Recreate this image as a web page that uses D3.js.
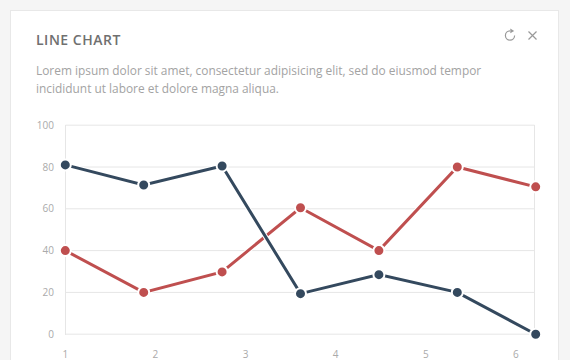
<!DOCTYPE html>
<html>
<head>
<meta charset="utf-8">
<script src="https://cdn.jsdelivr.net/npm/d3@7"></script>
<style>
  html, body { margin: 0; padding: 0; background: #f5f5f5; overflow: hidden; }
  svg { display: block; font-family: "Open Sans", sans-serif; }
</style>
</head>
<body>
<svg width="570" height="360"></svg>
<script>
const titleText = "LINE CHART";
const descLines = [
  "Lorem ipsum dolor sit amet, consectetur adipisicing elit, sed do eiusmod tempor",
  "incididunt ut labore et dolore magna aliqua."
];
const yTicks = [0, 20, 40, 60, 80, 100];
const xTicks = [1, 2, 3, 4, 5, 6];
const xValues = [1, 1.87, 2.74, 3.61, 4.48, 5.35, 6.22];
const darkValues = [81, 71.4, 80.5, 19.4, 28.5, 20, 0];
const redValues = [40, 20, 29.8, 60.5, 40, 80, 70.5];

const svg = d3.select("svg");

// card
svg.append("rect")
  .attr("x", 10.5).attr("y", 10.5)
  .attr("width", 548).attr("height", 370)
  .attr("fill", "#fff").attr("stroke", "#e8e8e8");

svg.append("text")
  .attr("x", 36).attr("y", 45)
  .attr("fill", "#707070")
  .style("font-size", "14px")
  .style("font-weight", 600)
  .style("letter-spacing", "0.5px")
  .text(titleText);

svg.selectAll(".desc")
  .data(descLines)
  .enter()
  .append("text")
  .attr("class", "desc")
  .attr("x", 36)
  .attr("y", (d, i) => 75 + i * 18)
  .attr("fill", "#a3a3a3")
  .style("font-size", "11.9px")
  .text(d => d);

// refresh and close icons
const icons = svg.append("g")
  .attr("fill", "none")
  .attr("stroke", "#999")
  .attr("stroke-width", 1.2);
icons.append("path").attr("d", "M514.6 35.5 A4.6 4.6 0 1 1 510 30.9");
icons.append("path").attr("d", "M510.3 28.6 L514.2 30.9 L510.3 33.2 Z").attr("fill", "#999").attr("stroke", "none");
icons.append("path").attr("d", "M528.5 31.5 L536.5 39.5 M536.5 31.5 L528.5 39.5");

const x = d3.scaleLinear().domain([1, 6.22]).range([65.3, 535.7]);
const y = d3.scaleLinear().domain([0, 100]).range([334.2, 125.2]);

// grid
svg.append("g")
  .selectAll("line")
  .data(yTicks)
  .enter()
  .append("line")
  .attr("x1", 65.5).attr("x2", 534.5)
  .attr("y1", d => y(d))
  .attr("y2", d => y(d))
  .attr("stroke", "#e6e6e6");

svg.append("g")
  .selectAll("line")
  .data([65.5, 534.5])
  .enter()
  .append("line")
  .attr("x1", d => d).attr("x2", d => d)
  .attr("y1", 125).attr("y2", 335)
  .attr("stroke", "#e6e6e6");

// axis labels
svg.append("g")
  .selectAll("text")
  .data(yTicks)
  .enter()
  .append("text")
  .attr("x", 54)
  .attr("y", d => y(d) + 3.5)
  .attr("text-anchor", "end")
  .attr("fill", "#aaa")
  .style("font-size", "10px")
  .text(d => d);

svg.append("g")
  .selectAll("text")
  .data(xTicks)
  .enter()
  .append("text")
  .attr("x", d => x(d))
  .attr("y", 358)
  .attr("text-anchor", "middle")
  .attr("fill", "#aaa")
  .style("font-size", "10px")
  .text(d => d);

// series
const line = d3.line()
  .x((d, i) => x(xValues[i]))
  .y(d => y(d));

const series = [
  { values: redValues, color: "#bf4f4f" },
  { values: darkValues, color: "#34495e" }
];

series.forEach(s => {
  // white casing gives the gap where lines cross
  svg.append("path")
    .attr("d", line(s.values))
    .attr("fill", "none")
    .attr("stroke", "#fff")
    .attr("stroke-width", 5);

  svg.append("path")
    .attr("d", line(s.values))
    .attr("fill", "none")
    .attr("stroke", s.color)
    .attr("stroke-width", 3);

  svg.append("g")
    .selectAll("circle")
    .data(s.values)
    .enter()
    .append("circle")
    .attr("cx", (d, i) => x(xValues[i]))
    .attr("cy", d => y(d))
    .attr("r", 5.5)
    .attr("fill", s.color)
    .attr("stroke", "#fff")
    .attr("stroke-width", 2);
});
</script>
</body>
</html>
